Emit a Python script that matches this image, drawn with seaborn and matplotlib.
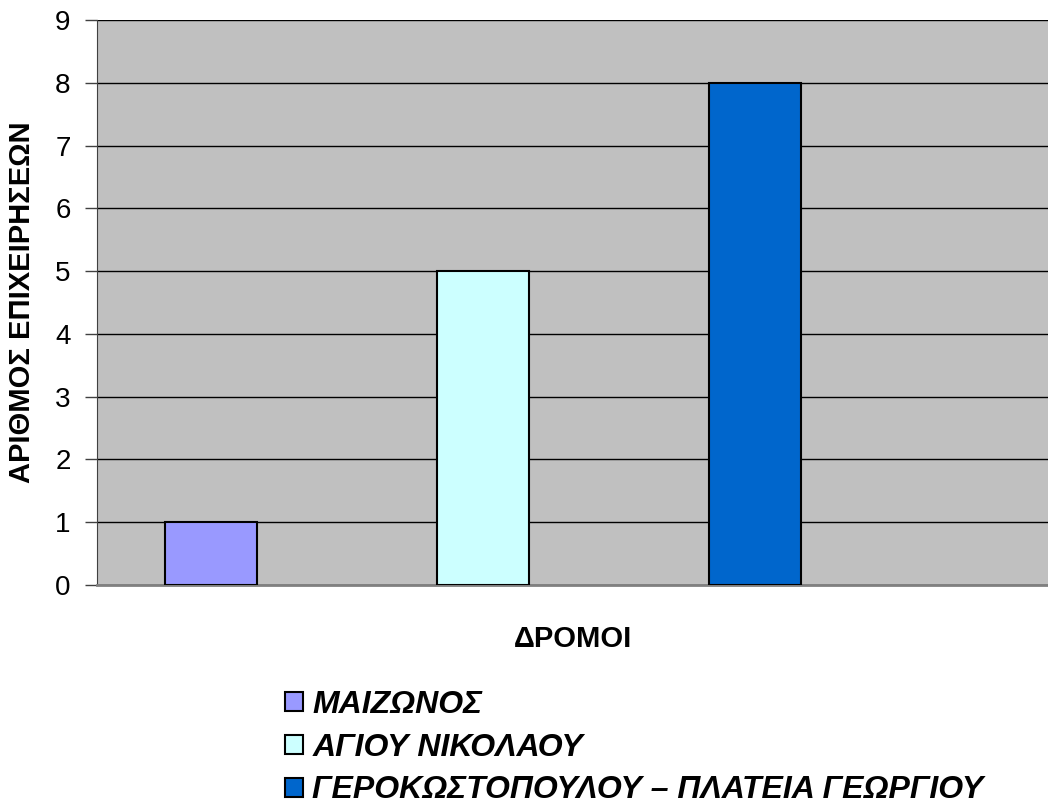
import matplotlib
matplotlib.use("Agg")
import matplotlib.pyplot as plt
import seaborn as sns
import pandas as pd

# datos
dromoi = ["ΜΑΙΖΩΝΟΣ", "ΑΓΙΟΥ ΝΙΚΟΛΑΟΥ", "ΓΕΡΟΚΩΣΤΟΠΟΥΛΟΥ – ΠΛΑΤΕΙΑ ΓΕΩΡΓΙΟΥ"]
epixeiriseis = [1, 5, 8]
colores = ["#9999FF", "#CCFFFF", "#0066CC"]

df = pd.DataFrame({"dromos": dromoi, "n": epixeiriseis})

sns.set_style("white")
plt.rcParams["font.family"] = ["Liberation Sans", "DejaVu Sans"]
plt.rcParams["text.color"] = "black"
plt.rcParams["axes.labelcolor"] = "black"
plt.rcParams["ytick.labelcolor"] = "black"

fig = plt.figure(figsize=(10.48, 8.09), dpi=100)
ax = fig.add_axes([0.0926, 0.277, 0.9074, 0.698])
ax.set_facecolor("#C0C0C0")

sns.barplot(data=df, x="dromos", y="n", hue="dromos", palette=colores,
            saturation=1, dodge=False, width=0.34, edgecolor="black",
            linewidth=1.5, legend=False, ax=ax, zorder=3)

ax.set_ylim(0, 9)
ax.set_yticks(range(0, 10))
ax.set_xlim(-0.42, 3.077)
ax.grid(axis="y", color="black", linewidth=1, zorder=0)
ax.set_axisbelow(True)
ax.set_xticks([])
for s in ["top", "right"]:
    ax.spines[s].set_visible(False)
ax.spines["left"].set_color("#404040")
ax.spines["bottom"].set_color("#808080")
ax.spines["bottom"].set_linewidth(2)
ax.tick_params(axis="y", length=9, width=1, color="#404040", labelcolor="black",
               labelsize=20, pad=10, left=True)

ax.set_ylabel("ΑΡΙΘΜΟΣ ΕΠΙΧΕΙΡΗΣΕΩΝ", fontsize=21, fontweight="bold", labelpad=14)
ax.set_xlabel("ΔΡΟΜΟΙ", fontsize=21, fontweight="bold", labelpad=29)

handles = [plt.Rectangle((0, 0), 1, 1, facecolor=c, edgecolor="black", linewidth=1.5)
           for c in colores]
fig.legend(handles, dromoi, loc="upper left", bbox_to_anchor=(0.257, 0.167),
           frameon=False, handlelength=0.55, handleheight=0.55, handletextpad=0.3,
           labelspacing=0.4, borderpad=0, labelcolor="black",
           prop={"size": 23, "weight": "bold", "style": "italic"})

plt.savefig("out.png", dpi=100)
